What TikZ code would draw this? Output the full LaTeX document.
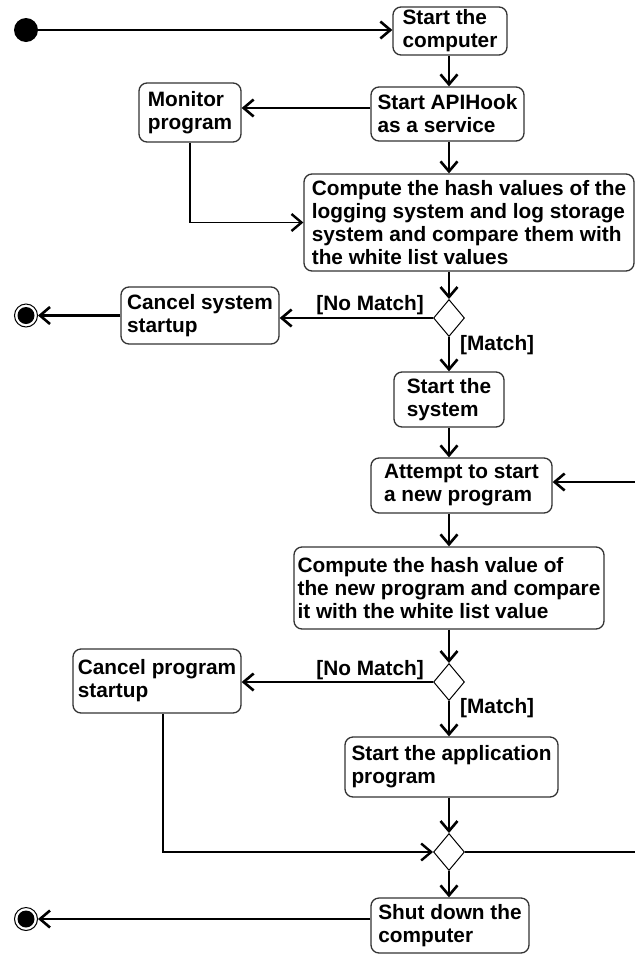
\documentclass[tikz,border=0pt]{standalone}
\usepackage{fontspec}
\setmainfont{Liberation Sans}
\usetikzlibrary{arrows.meta,shapes.geometric}
\begin{document}
\begin{tikzpicture}[x=1pt,y=-1pt,
  font=\fontsize{20.8}{23}\selectfont\bfseries,
  act/.style={draw=black!80, line width=1.3pt, rounded corners=8pt, fill=white,
    align=left, inner sep=0pt},
  dec/.style={draw=black, line width=1pt, diamond, fill=white, inner sep=0pt,
    minimum width=31pt, minimum height=37pt, aspect=0.84},
  arr/.style={line width=2.6pt, -{Straight Barb[length=10pt,width=17pt]}},
  thinl/.style={line width=1.6pt},
  thinarr/.style={thinl, -{Straight Barb[length=10pt,width=17pt,line width=2.4pt]}},
  lbl/.style={inner sep=0pt}
]
\useasboundingbox (0,0) rectangle (635,954);
% nodes
\node[fill=black, circle, minimum size=24pt, inner sep=0pt] (init) at (26,30) {};
\node[act, minimum width=114pt, minimum height=48pt] (sc) at (450,31) {Start the\\computer};
\node[act, minimum width=153pt, minimum height=54pt] (api) at (447.5,114) {Start APIHook\\as a service};
\node[act, minimum width=102pt, minimum height=59pt] (mon) at (190,112.5) {Monitor\\program};
\node[act, minimum width=330pt, minimum height=97pt] (c1) at (469,222.5) {Compute the hash values of the\\logging system and log storage\\system and compare them with\\the white list values};
\node[dec] (d1) at (449,318) {};
\node[act, minimum width=158pt, minimum height=57pt] (cs) at (200,315.5) {Cancel system\\startup};
\node[draw=black, line width=1pt, circle, fill=white, minimum size=23pt, inner sep=0pt] (f1) at (26,315.5) {};
\fill[black] (f1) circle (8.5pt);
\node[act, minimum width=110pt, minimum height=55pt] (ss) at (449,399.5) {Start the\\system};
\node[act, minimum width=181pt, minimum height=55pt] (att) at (461.5,485.5) {Attempt to start\\a new program};
\node[act, minimum width=310pt, minimum height=82pt] (c2) at (449,588) {Compute the hash value of\\the new program and compare\\it with the white list value};
\node[dec] (d2) at (449,682) {};
\node[act, minimum width=168pt, minimum height=64pt] (cp) at (157,681) {Cancel program\\startup};
\node[act, minimum width=213pt, minimum height=60pt] (app) at (451.5,767) {Start the application\\program};
\node[dec] (m) at (449,852) {};
\node[act, minimum width=158pt, minimum height=55pt] (shut) at (450,925.5) {Shut down the\\computer};
\node[draw=black, line width=1pt, circle, fill=white, minimum size=23pt, inner sep=0pt] (f2) at (26,919) {};
\fill[black] (f2) circle (8.5pt);
\coordinate (loopin) at (635,482);
\coordinate (loopout) at (635,852);
% labels
\node[lbl, anchor=base east] (l1) at (424,310) {[No Match]};
\node[lbl, anchor=base west] (l2) at (460,350) {[Match]};
\node[lbl, anchor=base east] (l3) at (424,675) {[No Match]};
\node[lbl, anchor=base west] (l4) at (460,713) {[Match]};
% connectors
\draw[arr] (init) -- (init -| sc.west);
\draw[arr] (sc.south -| d1) -- (api.north -| d1);
\draw[arr] ([yshift=6pt]api.west) -- ([yshift=6pt]api.west -| mon.east);
\draw[thinarr] (mon.south) |- (c1.west);
\draw[arr] (api.south -| d1) -- (c1.north -| d1);
\draw[arr] (c1.south -| d1) -- (d1.north);
\draw[arr] (d1.west) -- (d1.west -| cs.east);
\draw[arr] (cs.west) -- (f1.east);
\draw[arr] (d1.south) -- (ss.north -| d1);
\draw[arr] (ss.south -| d1) -- (att.north -| d1);
\draw[arr] (loopin) -- (loopin -| att.east);
\draw[arr] (att.south -| d1) -- (c2.north -| d1);
\draw[arr] (c2.south -| d1) -- (d2.north);
\draw[arr] (d2.west) -- (d2.west -| cp.east);
\draw[arr] (d2.south) -- (app.north -| d2);
\draw[arr] (app.south -| m) -- (m.north);
\draw[thinarr] ([xshift=6pt]cp.south) |- (m.west);
\draw[thinl] (m.east) -- (loopout);
\draw[arr] (m.south) -- (shut.north -| m);
\draw[arr] ([yshift=6.5pt]shut.west) -- ([yshift=6.5pt]shut.west -| f2.east);
\end{tikzpicture}
\end{document}
